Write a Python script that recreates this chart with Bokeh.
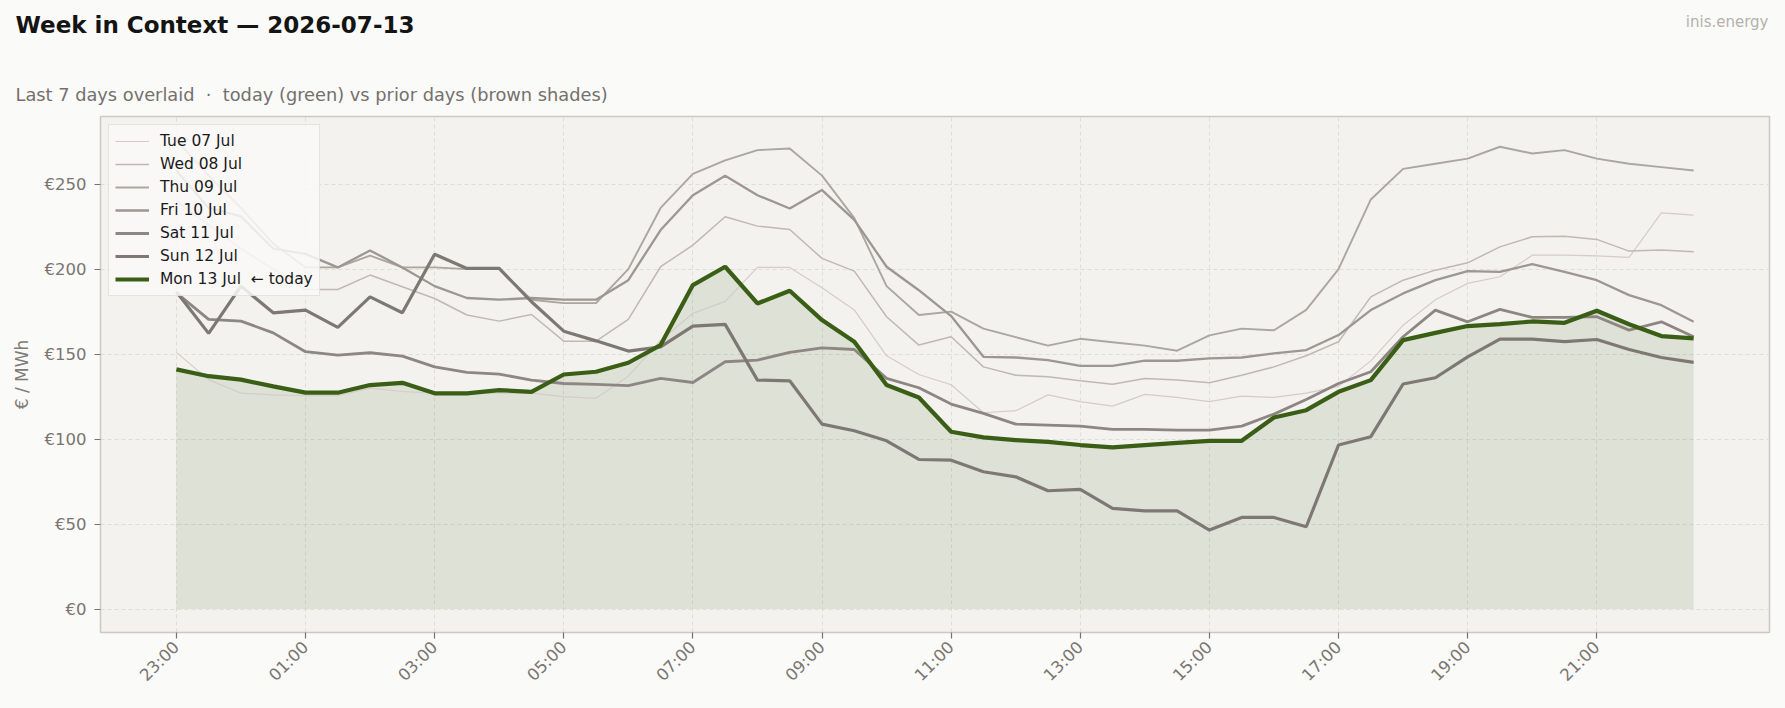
import math
from bokeh.plotting import figure
from bokeh.layouts import column
from bokeh.models import FixedTicker, Legend, LegendItem, Range1d, ColumnDataSource
from bokeh.core.properties import value
from bokeh.embed import file_html
from bokeh.resources import INLINE

# ---------------- data ----------------
times = ["23:00", "23:30", "00:00", "00:30", "01:00", "01:30", "02:00", "02:30",
         "03:00", "03:30", "04:00", "04:30", "05:00", "05:30", "06:00", "06:30",
         "07:00", "07:30", "08:00", "08:30", "09:00", "09:30", "10:00", "10:30",
         "11:00", "11:30", "12:00", "12:30", "13:00", "13:30", "14:00", "14:30",
         "15:00", "15:30", "16:00", "16:30", "17:00", "17:30", "18:00", "18:30",
         "19:00", "19:30", "20:00", "20:30", "21:00", "21:30", "22:00", "22:30"]

day_labels = ["Tue 07 Jul", "Wed 08 Jul", "Thu 09 Jul", "Fri 10 Jul",
              "Sat 11 Jul", "Sun 12 Jul", "Mon 13 Jul  \u2190 today"]

tue = [151, 135, 127, 126, 125.5, 125.5, 130, 128, 127, 127,
       127, 127, 125, 124, 137, 158, 174, 181, 201, 201,
       189, 176, 149, 138, 132, 115.5, 116.7, 126, 122, 119.4,
       126.3, 124.5, 122, 125.3, 124.5, 127, 131, 146, 167, 182,
       191.6, 195.5, 208.2, 208.2, 207.8, 206.9, 233.1, 231.8]
wed = [240, 226, 212, 200, 188, 188, 196.5, 189.6, 182.7, 173,
       169.4, 173.3, 157.6, 157.6, 170.4, 201.4, 214.1, 230.8, 225.3, 223.3,
       206.3, 198.8, 172, 155.3, 160.2, 142.5, 137.6, 136.7, 134.3, 132.2,
       135.7, 134.7, 133.1, 137.6, 142.5, 149, 157.3, 183.7, 193.5, 199.4,
       203.7, 213.1, 219, 219.4, 217.5, 210.6, 211.2, 210.2]
thu = [276, 255, 236, 215, 201, 201, 208, 201, 201, 200,
       200, 182, 180, 180, 200, 236, 256, 264, 270, 271,
       255, 230, 190, 173, 175, 165, 160, 155, 159, 157,
       155, 152, 161, 165, 164, 176, 200, 241, 259, 262,
       265, 272, 268, 270, 265, 262, 260, 258]
fri = [258, 236, 231, 212, 209, 201, 211, 201, 190, 183,
       182, 183, 182, 182, 193.5, 223, 243.5, 255, 243.5, 235.7,
       246.5, 229, 201.4, 187.6, 172.4, 148.4, 148, 146.5, 143.1, 143.1,
       146.1, 146.1, 147.5, 148, 150.4, 152.4, 161.2, 175.9, 185.7, 193.5,
       198.8, 198.4, 202.9, 198.4, 193.5, 184.7, 178.8, 169]
sat = [186, 170.4, 169.4, 162.5, 151.4, 149.4, 150.8, 148.8, 142.5, 139.2,
       138.2, 134.7, 132.7, 132.2, 131.4, 135.7, 133.3, 145.5, 146.5, 151,
       153.7, 152.7, 135.7, 130.2, 120.6, 115.1, 108.8, 108.2, 107.6, 105.7,
       105.7, 105.3, 105.3, 107.6, 114.7, 123.3, 132.7, 139.6, 160.2, 175.9,
       169, 176.3, 171.6, 171.6, 172, 164.1, 169, 160.2]
sun = [186.7, 162.2, 190, 174.3, 175.9, 165.7, 183.7, 174.3, 208.8, 200.4,
       200.4, 180.8, 163.5, 157.8, 151.8, 154.3, 166.5, 167.5, 134.7, 134.3,
       108.8, 104.9, 99, 88, 87.6, 80.8, 77.8, 69.6, 70.4, 59.2,
       57.8, 57.8, 46.5, 53.9, 53.9, 48.4, 96.5, 101.4, 132.4, 136.1,
       148.4, 158.8, 158.8, 157.3, 158.6, 152.7, 148, 145.1]
mon = [141, 137, 135, 131, 127.3, 127.3, 131.8, 133.1, 126.9, 126.9,
       128.8, 127.8, 138, 139.6, 144.9, 155.3, 190.6, 201.4, 179.8, 187.3,
       170, 157.3, 131.8, 124.5, 104.3, 101, 99.4, 98.4, 96.5, 95.1,
       96.5, 97.8, 99, 99, 112.7, 117, 127.8, 134.7, 158.2, 162.5,
       166.5, 167.6, 169.2, 168.4, 175.5, 167.6, 160.6, 159.2]

y_tick_values = [0, 50, 100, 150, 200, 250]
y_tick_labels = ["\u20ac0", "\u20ac50", "\u20ac100", "\u20ac150", "\u20ac200", "\u20ac250"]

title_text = "Week in Context \u2014 2026-07-13"
subtitle_text = "Last 7 days overlaid \u00a0\u00b7\u00a0 today (green) vs prior days (brown shades)"
brand_text = "inis.energy"
y_label = "\u20ac / MWh"

# ---------------- styling ----------------
FONT = "DejaVu Sans"
PAGE_BG = "#fafaf8"
prior_colors = ["#d2cdc8", "#bfb9b4", "#aca5a0", "#9d9692", "#8d8682", "#7e7874"]
prior_widths = [1.2, 1.5, 1.9, 2.3, 2.8, 3.2]
green = "#3a5e16"

W = 1785
HEADER_H = 114
MAIN_H = 708 - HEADER_H

# ---------------- header (title, subtitle, brand) ----------------
hdr = figure(width=W, height=HEADER_H, output_backend="svg", toolbar_location=None,
             x_range=Range1d(0, W), y_range=Range1d(HEADER_H, 0),
             x_axis_type=None, y_axis_type=None,
             min_border=0, min_border_left=0, min_border_right=0,
             min_border_top=0, min_border_bottom=0,
             background_fill_color=PAGE_BG, border_fill_color=PAGE_BG,
             outline_line_color=None)
hdr.frame_align = False
hdr.xgrid.visible = False
hdr.ygrid.visible = False
hdr.text(x=[15], y=[24], text=[title_text], text_font=value(FONT),
         text_font_size="23px", text_font_style="bold", text_color="#141414",
         text_baseline="alphabetic", text_align="left")
hdr.text(x=[15], y=[94], text=[subtitle_text], text_font=value(FONT),
         text_font_size="17.8px", text_color="#74706c",
         text_baseline="alphabetic", text_align="left")
hdr.text(x=[1768], y=[21], text=[brand_text], text_font=value(FONT),
         text_font_size="15px", text_color="#b4b1ae",
         text_baseline="alphabetic", text_align="right")

# ---------------- main plot ----------------
idx = list(range(len(times)))
n = len(idx)
x_ticks = idx[::4]

p = figure(width=W, height=MAIN_H, output_backend="svg", toolbar_location=None,
           x_range=Range1d(-0.05 * (n - 1), (n - 1) * 1.05),
           y_range=Range1d(-13.8, 289.8),
           min_border_left=100, min_border_right=16, min_border_top=2,
           min_border_bottom=76,
           background_fill_color="#f3f2ee", border_fill_color=PAGE_BG,
           outline_line_color="#cdc8c2", outline_line_width=1.5)
p.frame_align = False

src = ColumnDataSource(dict(x=idx, y=mon))
p.varea(x="x", y1=0, y2="y", source=src, fill_color=green, fill_alpha=0.11)

renderers = []
for vals, col, lw in zip([tue, wed, thu, fri, sat, sun], prior_colors, prior_widths):
    renderers.append(p.line(idx, vals, line_color=col, line_width=lw))
renderers.append(p.line(idx, mon, line_color=green, line_width=4.2))

legend = Legend(items=[LegendItem(label=lab, renderers=[rr]) for lab, rr in zip(day_labels, renderers)],
                location="top_left")
legend.label_text_font = FONT
legend.label_text_font_size = "15.5px"
legend.label_text_color = "#1a1a1a"
legend.background_fill_color = "#f9f9f7"
legend.background_fill_alpha = 0.85
legend.border_line_color = "#d2cec9"
legend.border_line_width = 1.2
legend.label_height = 20
legend.glyph_height = 20
legend.glyph_width = 34
legend.spacing = 3
legend.padding = 6
legend.margin = 8
legend.label_standoff = 11
p.add_layout(legend)

xa = p.xaxis[0]
xa.ticker = FixedTicker(ticks=x_ticks)
xa.major_label_overrides = {i: times[i] for i in x_ticks}
xa.major_label_orientation = math.pi / 4
ya = p.yaxis[0]
ya.ticker = FixedTicker(ticks=y_tick_values)
ya.major_label_overrides = dict(zip(y_tick_values, y_tick_labels))
ya.axis_label = y_label
ya.axis_label_text_font = FONT
ya.axis_label_text_font_style = "normal"
ya.axis_label_text_font_size = "17px"
ya.axis_label_text_color = "#807b77"
ya.axis_label_standoff = 10
for ax in (xa, ya):
    ax.axis_line_color = None
    ax.major_tick_line_color = "#77726e"
    ax.major_tick_line_width = 1.2
    ax.major_tick_out = 6
    ax.major_tick_in = 0
    ax.minor_tick_line_color = None
    ax.major_label_text_font = FONT
    ax.major_label_text_font_size = "16.5px"
    ax.major_label_text_color = "#7a7571"
    ax.major_label_standoff = 8
xa.major_label_standoff = 6

for g in (p.xgrid[0], p.ygrid[0]):
    g.grid_line_color = "#dedad4"
    g.grid_line_dash = "4 3"
    g.grid_line_width = 0.9

layout = column(hdr, p, spacing=0, styles={"background-color": PAGE_BG})
open("out.html", "w").write(file_html(layout, INLINE))
